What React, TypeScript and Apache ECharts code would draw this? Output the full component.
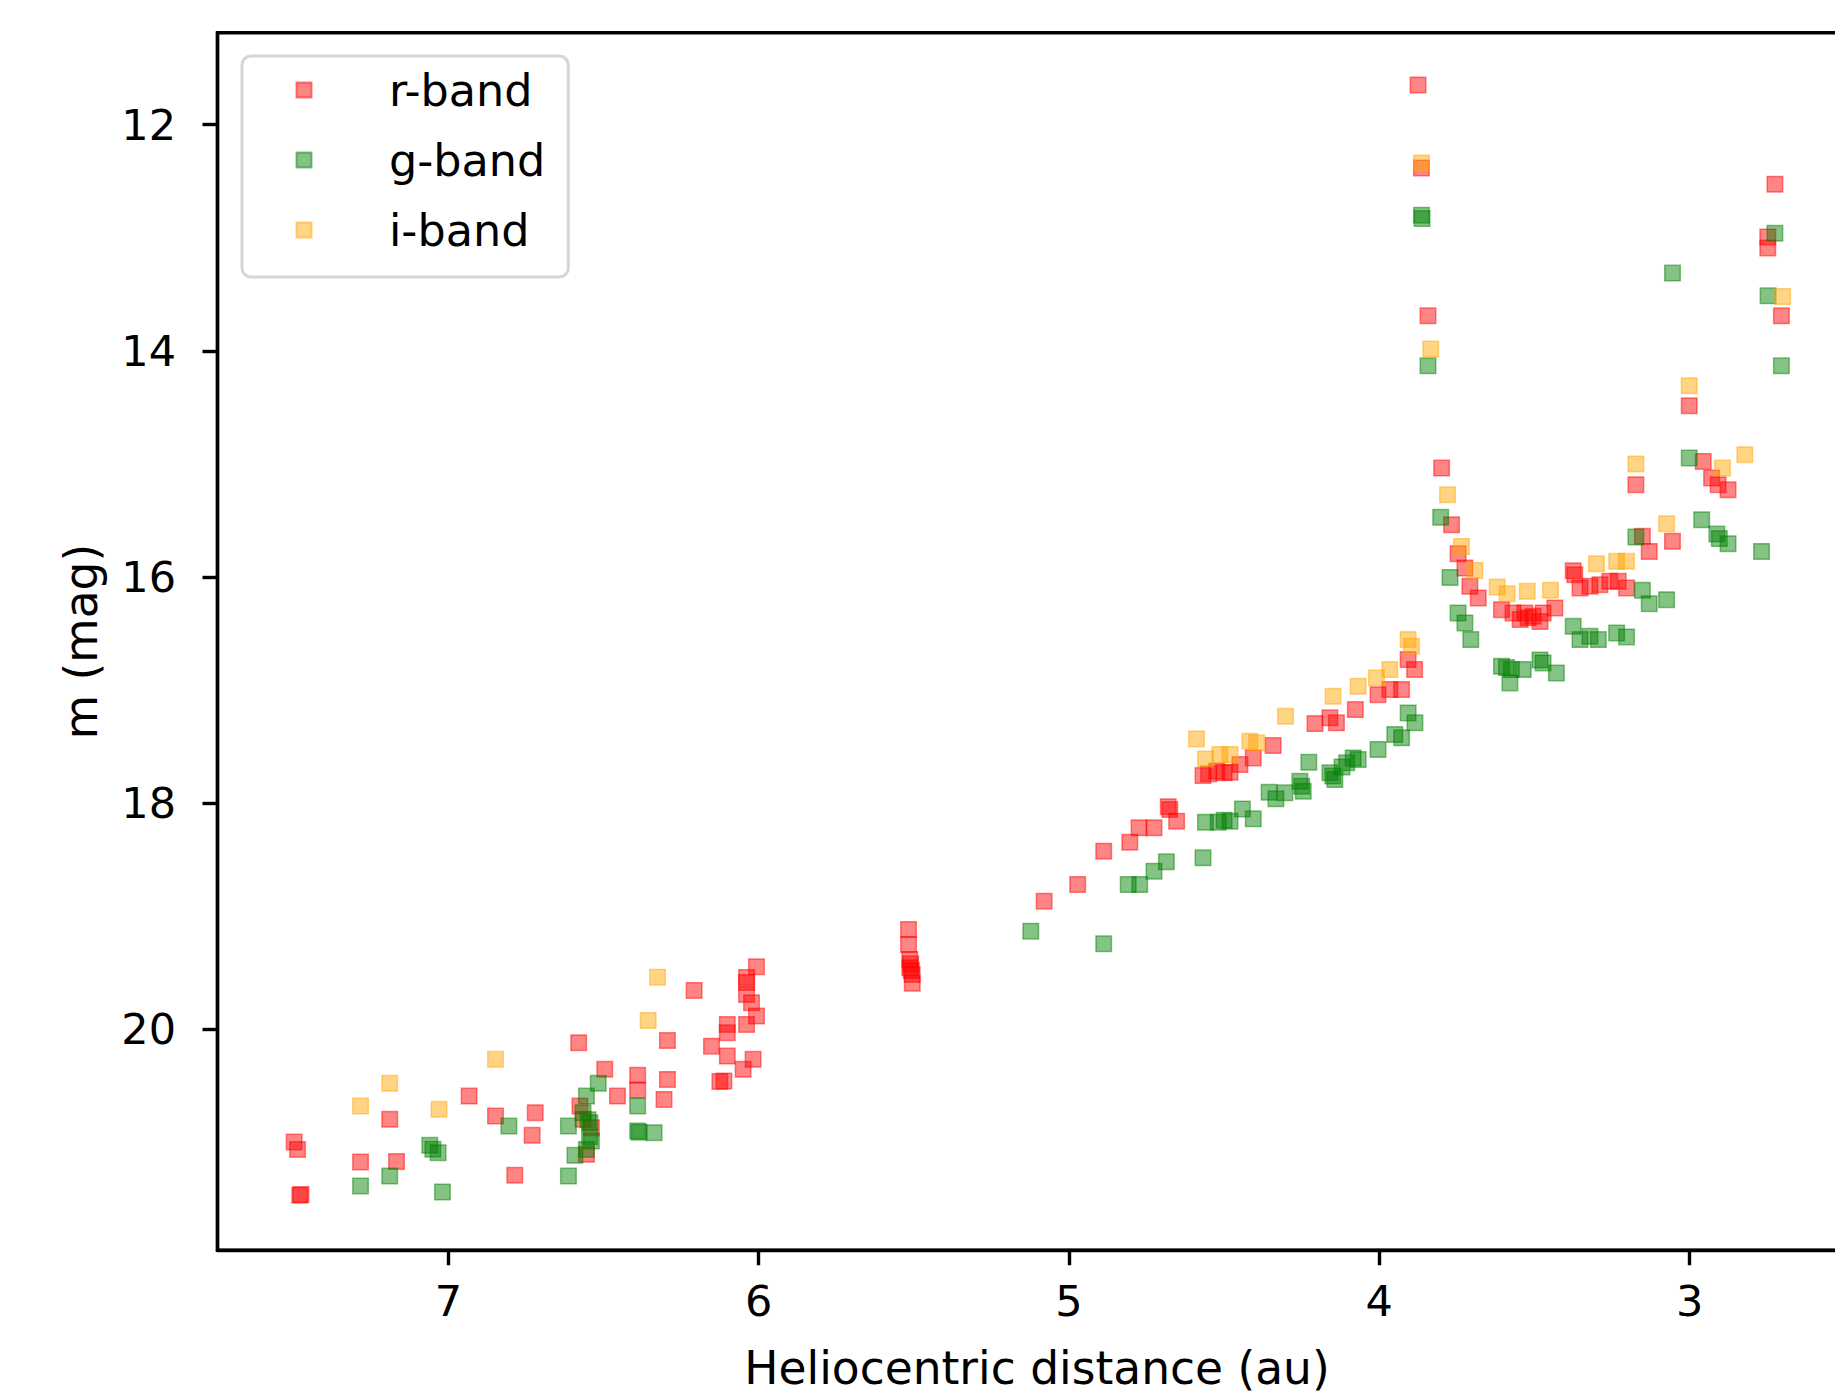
import React, { useEffect, useRef } from "react";
import * as echarts from "echarts";

// [heliocentric distance (au), magnitude]
const rBand: [number, number][] = [
  [7.497, 20.996], [7.486, 21.061], [7.479, 21.467], [7.475, 21.46],
  [7.283, 21.173], [7.189, 20.795], [7.167, 21.169], [6.933, 20.59], [6.848, 20.766],
  [6.786, 21.29], [6.72, 20.736], [6.73, 20.937], [6.58, 20.118],
  [6.496, 20.353], [6.576, 20.678], [6.566, 20.795], [6.539, 20.869], [6.555, 21.105],
  [6.455, 20.59], [6.39, 20.406], [6.39, 20.536], [6.294, 20.098], [6.294, 20.442],
  [6.305, 20.619], [6.208, 19.655], [6.152, 20.148],
  [6.007, 19.446], [6.039, 19.54], [6.039, 19.585], [6.039, 19.691], [6.023, 19.764],
  [6.007, 19.882], [6.039, 19.956], [6.101, 19.956], [6.101, 20.029], [6.101, 20.236],
  [6.018, 20.265], [6.05, 20.353], [6.112, 20.457], [6.125, 20.46],
  [5.517, 19.116], [5.517, 19.249], [5.513, 19.381], [5.51, 19.42], [5.513, 19.455],
  [5.508, 19.48], [5.505, 19.514], [5.505, 19.593],
  [5.08, 18.866], [4.972, 18.719],
  [4.888, 18.424], [4.804, 18.345], [4.774, 18.217], [4.726, 18.217], [4.675, 18.056],
  [4.68, 18.03], [4.653, 18.159],
  [4.568, 17.755], [4.55, 17.74], [4.524, 17.717], [4.5, 17.73], [4.481, 17.726],
  [4.449, 17.658], [4.406, 17.599], [4.342, 17.49],
  [4.207, 17.296], [4.159, 17.245], [4.138, 17.289], [4.077, 17.172], [4.004, 17.04],
  [3.966, 16.995], [3.928, 16.995], [3.907, 16.73], [3.886, 16.818],
  [3.875, 11.648], [3.864, 12.382], [3.843, 13.69],
  [3.799, 15.036], [3.767, 15.537], [3.746, 15.793], [3.724, 15.92], [3.708, 16.082],
  [3.681, 16.185],
  [3.606, 16.288], [3.569, 16.317], [3.546, 16.375], [3.531, 16.317], [3.52, 16.36],
  [3.504, 16.347], [3.482, 16.393], [3.472, 16.317], [3.434, 16.273],
  [3.375, 15.944], [3.37, 15.98], [3.353, 16.096], [3.321, 16.082], [3.289, 16.067],
  [3.257, 16.038], [3.23, 16.038], [3.203, 16.096],
  [3.173, 15.183], [3.152, 15.64], [3.13, 15.773], [3.055, 15.684],
  [3.001, 14.485], [2.956, 14.977], [2.929, 15.124], [2.908, 15.183], [2.876, 15.228],
  [2.725, 12.526], [2.748, 12.992], [2.748, 13.089], [2.704, 13.69],
];

const gBand: [number, number][] = [
  [7.283, 21.385], [7.189, 21.297], [7.06, 21.025], [7.05, 21.06], [7.033, 21.09],
  [7.019, 21.438], [6.805, 20.855], [6.613, 21.297], [6.613, 20.855], [6.592, 21.114],
  [6.517, 20.477], [6.555, 20.59], [6.566, 20.736], [6.55, 20.8], [6.544, 20.825],
  [6.545, 20.95], [6.539, 20.987], [6.555, 21.061],
  [6.39, 20.678], [6.39, 20.899], [6.385, 20.91], [6.337, 20.913],
  [5.123, 19.131], [4.888, 19.243],
  [4.809, 18.719], [4.772, 18.719], [4.726, 18.601], [4.686, 18.518], [4.568, 18.483],
  [4.56, 18.168], [4.519, 18.168], [4.5, 18.15], [4.481, 18.159], [4.441, 18.05], [4.406, 18.138],
  [4.355, 17.903], [4.333, 17.961], [4.304, 17.908], [4.256, 17.806], [4.25, 17.85],
  [4.245, 17.894], [4.227, 17.638],
  [4.159, 17.731], [4.15, 17.76], [4.143, 17.791], [4.12, 17.68], [4.105, 17.643],
  [4.084, 17.599], [4.068, 17.614],
  [4.004, 17.524], [3.95, 17.392], [3.928, 17.422], [3.907, 17.201], [3.885, 17.289],
  [3.864, 12.8], [3.862, 12.83], [3.843, 14.132],
  [3.802, 15.472], [3.772, 16.003], [3.746, 16.317], [3.724, 16.406], [3.705, 16.553],
  [3.606, 16.789], [3.59, 16.8], [3.579, 16.936], [3.574, 16.818], [3.536, 16.818],
  [3.482, 16.733], [3.472, 16.759], [3.429, 16.848],
  [3.375, 16.436], [3.353, 16.553], [3.321, 16.524], [3.294, 16.553], [3.235, 16.494],
  [3.203, 16.529],
  [3.173, 15.646], [3.152, 16.117], [3.13, 16.235], [3.074, 16.2],
  [3.055, 13.312], [3.001, 14.947], [2.961, 15.493], [2.912, 15.62], [2.904, 15.66],
  [2.876, 15.705], [2.768, 15.773],
  [2.725, 12.959], [2.747, 13.513], [2.704, 14.132],
];

const iBand: [number, number][] = [
  [7.283, 20.678], [7.189, 20.477], [7.03, 20.707], [6.848, 20.265], [6.356, 19.921],
  [6.326, 19.538],
  [4.589, 17.431], [4.56, 17.608], [4.514, 17.57], [4.481, 17.57], [4.417, 17.452],
  [4.395, 17.466], [4.302, 17.231], [4.149, 17.054],
  [4.068, 16.966], [4.009, 16.892], [3.966, 16.818], [3.907, 16.553], [3.896, 16.612],
  [3.864, 12.338], [3.834, 13.984],
  [3.78, 15.272], [3.735, 15.729], [3.692, 15.941], [3.62, 16.088], [3.588, 16.147],
  [3.523, 16.126], [3.448, 16.117], [3.3, 15.882], [3.235, 15.861], [3.203, 15.861],
  [3.173, 15.0], [3.074, 15.528], [3.001, 14.308], [2.894, 15.036], [2.822, 14.918],
  [2.7, 13.519],
];

const seriesNames = ["r-band", "g-band", "i-band"];
const seriesColors = ["rgba(255,0,0,0.6)", "rgba(0,128,0,0.6)", "rgba(255,165,0,0.6)"];
const xTicks = [3, 4, 5, 6, 7];
const yTicks = [12, 14, 16, 18, 20];

const FONT = "DejaVu Sans";
const CANVAS_W = 1900;

export default function App() {
  const ref = useRef<HTMLDivElement>(null);
  useEffect(() => {
    if (!ref.current) return;
    const chart = echarts.init(ref.current, undefined, { renderer: "svg" });
    const datasets = [rBand, gBand, iBand];
    chart.setOption({
      animation: false,
      backgroundColor: "#ffffff",
      textStyle: { fontFamily: FONT },
      grid: {
        left: 217.5,
        top: 32.8,
        right: CANVAS_W - 1856.5,
        bottom: 145,
        show: true,
        borderColor: "#000",
        borderWidth: 3.4,
        backgroundColor: "transparent",
        containLabel: false,
      },
      legend: {
        orient: "vertical",
        left: 242,
        top: 56,
        padding: [9, 23, 22, 53.5],
        itemWidth: 15,
        itemHeight: 15,
        itemGap: 20,
        icon: "rect",
        backgroundColor: "#ffffff",
        borderColor: "#d5d5d5",
        borderWidth: 3,
        borderRadius: 9,
        selectedMode: false,
        textStyle: {
          fontFamily: FONT,
          fontSize: 44.5,
          lineHeight: 50,
          color: "#000",
          width: 155,
          padding: [0, 0, 0, 72.5],
        },
        data: seriesNames,
      },
      xAxis: {
        type: "value",
        inverse: true,
        min: 2.462,
        max: 7.744,
        name: "Heliocentric distance (au)",
        nameLocation: "middle",
        nameGap: 95,
        nameTextStyle: { fontFamily: FONT, fontSize: 45.5, lineHeight: 45.5, color: "#000" },
        splitLine: { show: false },
        axisLine: { show: true, lineStyle: { color: "#000", width: 3.4 } },
        axisTick: {
          show: true,
          customValues: xTicks,
          length: 15,
          lineStyle: { color: "#000", width: 3.4 },
        },
        axisLabel: {
          customValues: xTicks,
          fontFamily: FONT,
          fontSize: 43,
          lineHeight: 43,
          color: "#000",
          margin: 29,
        },
      },
      yAxis: {
        type: "value",
        inverse: true,
        min: 11.187,
        max: 21.953,
        name: "m (mag)",
        nameLocation: "middle",
        nameRotate: 90,
        nameGap: 113,
        nameTextStyle: { fontFamily: FONT, fontSize: 45.5, lineHeight: 45.5, color: "#000" },
        splitLine: { show: false },
        axisLine: { show: true, lineStyle: { color: "#000", width: 3.4 } },
        axisTick: {
          show: true,
          customValues: yTicks,
          length: 15,
          lineStyle: { color: "#000", width: 3.4 },
        },
        axisLabel: {
          customValues: yTicks,
          fontFamily: FONT,
          fontSize: 43,
          lineHeight: 43,
          color: "#000",
          margin: 41.5,
        },
      },
      series: seriesNames.map((name, i) => ({
        name,
        type: "scatter",
        symbol: "rect",
        symbolSize: 15.5,
        data: datasets[i],
        itemStyle: {
          color: seriesColors[i],
          borderColor: seriesColors[i],
          borderWidth: 1.5,
        },
        emphasis: { disabled: true },
      })),
    });
    return () => chart.dispose();
  }, []);
  return (
    <div
      style={{ position: "fixed", left: 0, top: 0, width: 1835, height: 1396, overflow: "hidden" }}
    >
      <div ref={ref} style={{ width: CANVAS_W, height: 1396 }} />
    </div>
  );
}
